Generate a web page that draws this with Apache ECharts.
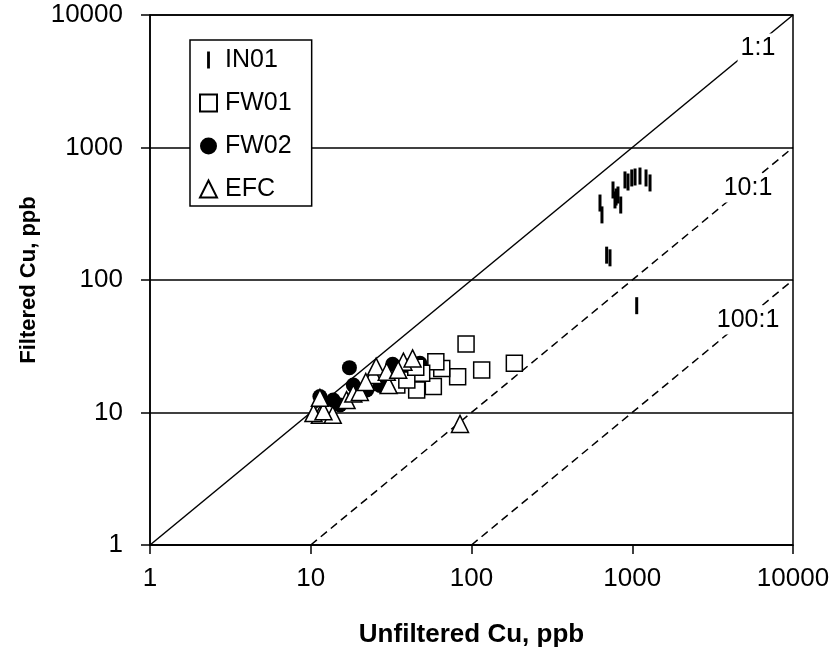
<!DOCTYPE html>
<html><head><meta charset="utf-8">
<script src="https://cdn.jsdelivr.net/npm/echarts@6/dist/echarts.min.js"></script>
<style>html,body{margin:0;padding:0;background:#fff}#c{width:829px;height:650px}</style>
</head><body><div id="c"></div>
<script>
// ---- data ----
const IN01 = [[630,381],[648,310],[693,154],[727,147],[759,478],[781,402],[793,423],[815,438],[848,368],[901,569],[941,549],[993,589],[1041,599],[1117,609],[1218,589],[1290,540],[1066,64]];
const FW01 = [[92.5,32.9],[184.7,23.5],[115.7,20.9],[82,18.6],[65.3,21.5],[60,24.2],[57.9,15.7],[45.6,14.8],[49,19.8],[34.3,16.1],[39.6,17.6],[45,22]];
const FW02 = [[17.4,21.8],[32.3,23.1],[47.8,23.5],[11.4,13.2],[13.8,12.4],[18.4,16.1],[22.3,14.8],[15.2,11.4],[27,16],[40,22]];
const EFC = [[11.4,9.6],[13.7,9.6],[10.4,9.9],[12,10.2],[11.4,12.9],[16.7,12.4],[18.4,13.9],[20.2,14.3],[24.5,19.2],[25.5,22.2],[30.5,16.1],[29.7,20.3],[37.7,24.2],[43,25.6],[84.8,8.2],[22,17],[35,21]];
const line1to1 = [[1,1],[10000,10000]];
const line10to1 = [[10,1],[10000,1000]];
const line100to1 = [[100,1],[10000,100]];
const ratioLabels = ['1:1','10:1','100:1'];
const ratioLabelAt = [[6054,5636],[5250,495],[5250,50]];
const ticks = [1,10,100,1000,10000];

const FONT = 'Liberation Sans, Arial, sans-serif';
const chart = echarts.init(document.getElementById('c'));
const lineS = (name, data, type) => ({
  name, type:'line', data, showSymbol:false, symbol:'none', silent:true,
  lineStyle:{color:'#000', width:1.5, type}, z:1, animation:false
});
const fmt = v => String(Math.round(v));
chart.setOption({
  animation:false,
  backgroundColor:'#fff',
  grid:{left:150,right:36,top:15,bottom:105,show:true,borderColor:'#000',borderWidth:1.5,
    backgroundColor:'transparent',containLabel:false,outerBoundsMode:'none'},
  xAxis:{type:'log',logBase:10,min:ticks[0],max:ticks[ticks.length-1],
    name:'Unfiltered Cu, ppb',nameLocation:'middle',nameGap:77,
    nameTextStyle:{fontFamily:FONT,fontSize:26,fontWeight:'bold',color:'#000'},
    axisLine:{lineStyle:{color:'#000',width:1.5}},
    axisTick:{show:true,length:9,lineStyle:{color:'#000',width:1.5}},
    axisLabel:{fontFamily:FONT,fontSize:26,color:'#000',margin:21,formatter:fmt},
    splitLine:{show:false},minorTick:{show:false}},
  yAxis:{type:'log',logBase:10,min:ticks[0],max:ticks[ticks.length-1],
    name:'Filtered Cu, ppb',nameLocation:'middle',nameGap:101,
    nameTextStyle:{fontFamily:FONT,fontSize:22,fontWeight:'bold',color:'#000'},
    axisLine:{lineStyle:{color:'#000',width:1.5}},
    axisTick:{show:true,length:9,lineStyle:{color:'#000',width:1.5}},
    axisLabel:{fontFamily:FONT,fontSize:26,color:'#000',margin:27,formatter:fmt},
    splitLine:{show:true,lineStyle:{color:'#000',width:1.5}},minorTick:{show:false}},
  legend:{
    data:['IN01','FW01','FW02','EFC'],
    orient:'vertical',left:190,top:40,
    backgroundColor:'#fff',borderColor:'#000',borderWidth:1.5,
    padding:[7,20,4,9],itemGap:17,itemWidth:17,itemHeight:17,
    textStyle:{fontFamily:FONT,fontSize:25,color:'#000',lineHeight:26,padding:[0,0,0,3]}
  },
  series:[
    lineS('r1', line1to1, 'solid'),
    lineS('r10', line10to1, [8,5]),
    lineS('r100', line100to1, [8,5]),
    {name:'FW02',type:'scatter',data:FW02,symbol:'circle',symbolSize:15,
      itemStyle:{color:'#000',opacity:1},z:3},
    {name:'FW01',type:'scatter',data:FW01,symbol:'rect',symbolSize:16,
      itemStyle:{color:'#fff',borderColor:'#000',borderWidth:1.5,opacity:1},z:3},
    {name:'EFC',type:'scatter',data:EFC,symbol:'triangle',symbolSize:17,
      itemStyle:{color:'#fff',borderColor:'#000',borderWidth:1.5,opacity:1},z:3},
    {name:'IN01',type:'scatter',data:IN01,symbol:'path://M0,0L1,0L1,6L0,6Z',symbolSize:[3,17],
      symbolKeepAspect:false,
      itemStyle:{color:'#000',opacity:1},z:3},
    {name:'labels',type:'scatter',silent:true,symbolSize:1,z:2,
      itemStyle:{color:'#fff',opacity:1},
      data:ratioLabelAt.map((p,i)=>({value:p,name:ratioLabels[i]})),
      label:{show:true,position:'inside',formatter:'{b}',fontFamily:FONT,fontSize:25,color:'#000',opacity:1,
        backgroundColor:'#fff',padding:[2,3]}}
  ]
});
</script></body></html>
